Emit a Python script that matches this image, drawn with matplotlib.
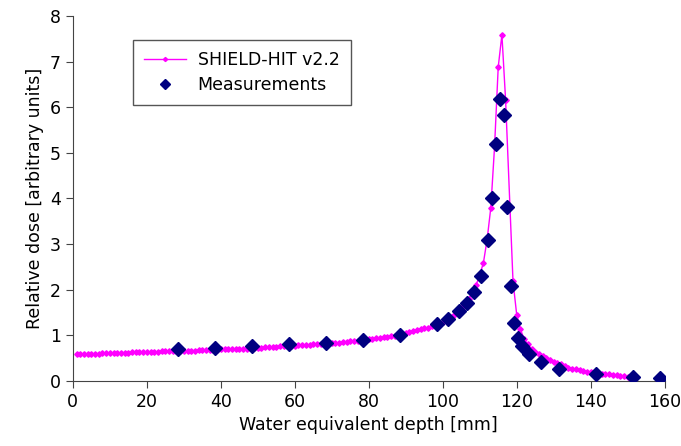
import matplotlib
matplotlib.use("Agg")
import matplotlib.pyplot as plt

# SHIELD-HIT v2.2 simulation (depth in mm, relative dose)
sim_x = list(range(1, 118)) + list(range(119, 152))
sim_y = [0.58, 0.585, 0.59, 0.59, 0.595, 0.60, 0.60, 0.605, 0.61, 0.61,
         0.615, 0.615, 0.62, 0.62, 0.62, 0.625, 0.625, 0.63, 0.63, 0.635,
         0.635, 0.64, 0.64, 0.645, 0.645, 0.65, 0.65, 0.655, 0.655, 0.66,
         0.66, 0.665, 0.665, 0.67, 0.67, 0.675, 0.68, 0.68, 0.685, 0.69,
         0.69, 0.695, 0.70, 0.70, 0.705, 0.71, 0.71, 0.715, 0.72, 0.725,
         0.73, 0.735, 0.74, 0.745, 0.75, 0.755, 0.76, 0.765, 0.77, 0.775,
         0.78, 0.785, 0.79, 0.795, 0.80, 0.805, 0.81, 0.815, 0.82, 0.83,
         0.835, 0.84, 0.85, 0.855, 0.865, 0.87, 0.88, 0.89, 0.90, 0.91,
         0.92, 0.93, 0.94, 0.955, 0.965, 0.98, 0.995, 1.01, 1.03, 1.05,
         1.07, 1.09, 1.11, 1.13, 1.15, 1.17, 1.20, 1.22, 1.26, 1.29,
         1.34, 1.39, 1.45, 1.52, 1.60, 1.68, 1.80, 1.94, 2.10, 2.32,
         2.59, 3.10, 3.80, 5.12, 6.88, 7.59, 6.15,
         2.18, 1.45, 1.13, 0.92, 0.80, 0.71, 0.64, 0.59, 0.54, 0.50,
         0.46, 0.42, 0.39, 0.36, 0.33, 0.29, 0.26, 0.25, 0.23, 0.21,
         0.20, 0.19, 0.17, 0.16, 0.15, 0.145, 0.14, 0.13, 0.12, 0.11,
         0.10, 0.095, 0.09]

# measurements
meas_x = [28.4, 38.5, 48.5, 58.4, 68.4, 78.4, 88.4, 98.4, 101.5, 104.5,
          106.6, 108.5, 110.4, 112.3, 113.4, 114.4, 115.5, 116.6, 117.4, 118.4,
          119.4, 120.3, 121.4, 123.4, 126.5, 131.5, 141.5, 151.5, 158.7]
meas_y = [0.70, 0.73, 0.76, 0.80, 0.83, 0.90, 1.01, 1.24, 1.36, 1.53,
          1.70, 1.95, 2.30, 3.08, 4.01, 5.19, 6.18, 5.83, 3.81, 2.07,
          1.26, 0.93, 0.77, 0.58, 0.42, 0.27, 0.14, 0.08, 0.065]

fig = plt.figure(figsize=(6.81, 4.46), dpi=100)
ax = fig.add_axes([0.107, 0.146, 0.869, 0.818])

ax.plot(sim_x, sim_y, color='#ff00ff', lw=1.0, marker='D', ms=2.8,
        label='SHIELD-HIT v2.2', zorder=2)
ax.plot(meas_x, meas_y, ls='none', marker='D', ms=6.8, color='#000080',
        label='Measurements', zorder=3)

ax.set_xlim(0, 160)
ax.set_ylim(0, 8)
ax.set_xticks(range(0, 161, 20))
ax.set_yticks(range(0, 9))
ax.set_xlabel("Water equivalent depth [mm]", fontsize=12.5)
ax.set_ylabel("Relative dose [arbitrary units]", fontsize=12.5)
ax.tick_params(labelsize=12.5, color='#444444', length=5)
for s in ['top', 'right']:
    ax.spines[s].set_visible(False)
for s in ['left', 'bottom']:
    ax.spines[s].set_color('#444444')

leg = ax.legend(loc='upper left', bbox_to_anchor=(0.101, 0.934), fontsize=12.5,
                fancybox=False, edgecolor='#555555', framealpha=1,
                borderaxespad=0, borderpad=0.65, labelspacing=0.38,
                handlelength=2.4, handletextpad=0.7, markerscale=0.75)
leg.get_frame().set_linewidth(1.0)

fig.savefig('out.png', dpi=100)
